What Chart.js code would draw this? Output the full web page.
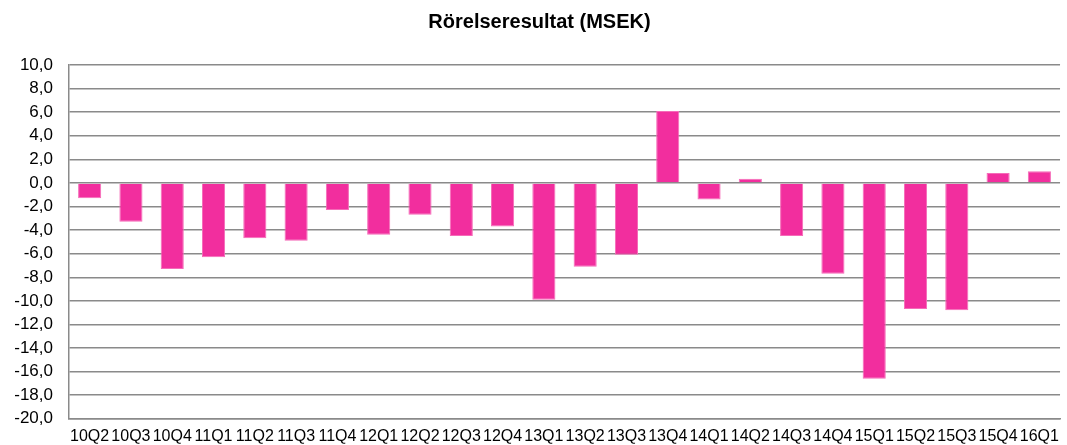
<!DOCTYPE html>
<html>
<head>
<meta charset="utf-8">
<script src="https://cdn.jsdelivr.net/npm/chart.js@4/dist/chart.umd.min.js"></script>
<style>
  html, body { margin: 0; padding: 0; background: #fff; }
  #wrap { width: 1067px; height: 445px; }
</style>
</head>
<body>
<div id="wrap"><canvas id="rorelseChart"></canvas></div>
<script>
// Kvartal
const kvartal = ['10Q2','10Q3','10Q4','11Q1','11Q2','11Q3','11Q4','12Q1','12Q2','12Q3','12Q4',
  '13Q1','13Q2','13Q3','13Q4','14Q1','14Q2','14Q3','14Q4','15Q1','15Q2','15Q3','15Q4','16Q1'];

// Rörelseresultat i MSEK
const resultat = [-1.3, -3.3, -7.3, -6.3, -4.7, -4.9, -2.3, -4.4, -2.7, -4.5, -3.7,
  -9.9, -7.1, -6.1, 6.1, -1.4, 0.35, -4.5, -7.7, -16.6, -10.7, -10.8, 0.85, 1.0];

// Y-axel
const yMin = -20;
const yMax = 10;
const yStep = 2;

const ctx = document.getElementById('rorelseChart').getContext('2d');
new Chart(ctx, {
  type: 'bar',
  data: {
    labels: kvartal,
    datasets: [{
      label: 'Rörelseresultat',
      data: resultat,
      backgroundColor: '#f22e9e',
      borderColor: '#f56bb8',
      borderWidth: 1,
      categoryPercentage: 1.0,
      barPercentage: 0.56
    }]
  },
  options: {
    responsive: true,
    maintainAspectRatio: false,
    animation: false,
    layout: { padding: { left: 14, right: 2, top: 0, bottom: 0 } },
    plugins: {
      legend: { display: false },
      tooltip: { enabled: false },
      title: {
        display: true,
        text: 'Rörelseresultat (MSEK)',
        color: '#000',
        font: { family: 'Liberation Sans, Arial, sans-serif', size: 20, weight: 'bold' },
        padding: { top: 10, bottom: 31 }
      }
    },
    scales: {
      x: {
        grid: { display: false, drawTicks: false },
        border: { display: true, color: '#8a8a8a', width: 1.5 },
        ticks: {
          autoSkip: false,
          maxRotation: 0,
          minRotation: 0,
          padding: 8,
          color: '#000',
          font: { family: 'Liberation Sans, Arial, sans-serif', size: 16 }
        },
        afterFit: function(scale) { scale.height = 25; }
      },
      y: {
        min: yMin,
        max: yMax,
        grid: { color: '#8a8a8a', lineWidth: 1.5, drawTicks: false },
        border: { display: true, color: '#8a8a8a', width: 1.5 },
        ticks: {
          stepSize: yStep,
          padding: 16,
          color: '#000',
          font: { family: 'Liberation Sans, Arial, sans-serif', size: 17 },
          callback: function(v) { return v.toFixed(1).replace('.', ','); }
        },
        afterFit: function(scale) { scale.width = 55; }
      }
    }
  }
});
</script>
</body>
</html>
